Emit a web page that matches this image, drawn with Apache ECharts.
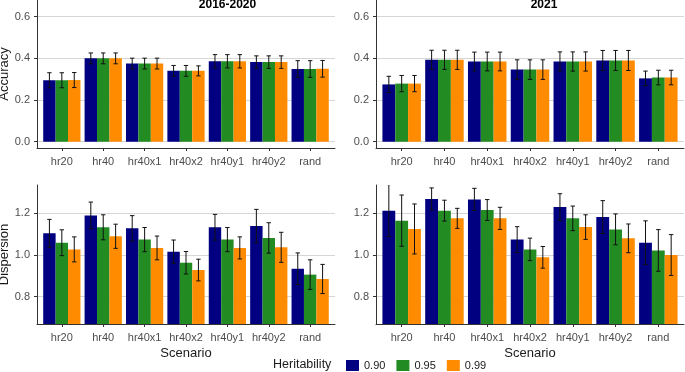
<!DOCTYPE html>
<html><head><meta charset="utf-8">
<script src="https://cdn.jsdelivr.net/npm/echarts@6/dist/echarts.min.js"></script>
<style>html,body{margin:0;padding:0;background:#fff}#c{width:685px;height:372px}</style>
</head><body><div id="c"></div>
<script>
// ---------- data ----------
const categories = ['hr20', 'hr40', 'hr40x1', 'hr40x2', 'hr40y1', 'hr40y2', 'rand'];
const heritability = ['0.90', '0.95', '0.99'];
const panelTitles = ['2016-2020', '2021'];
const accuracyTicks = [0, 0.2, 0.4, 0.6];
const dispersionTicks = [0.8, 1.0, 1.2];

// Accuracy 2016-2020
const acc2016_090 = [0.295, 0.400, 0.375, 0.340, 0.386, 0.382, 0.349];
const acc2016_095 = [0.295, 0.400, 0.375, 0.340, 0.386, 0.382, 0.349];
const acc2016_099 = [0.296, 0.400, 0.375, 0.340, 0.386, 0.382, 0.350];
const accErr2016_090 = [0.036, 0.026, 0.026, 0.026, 0.032, 0.030, 0.040];
const accErr2016_095 = [0.036, 0.026, 0.026, 0.026, 0.032, 0.030, 0.040];
const accErr2016_099 = [0.036, 0.026, 0.026, 0.024, 0.032, 0.030, 0.040];

// Accuracy 2021
const acc2021_090 = [0.275, 0.393, 0.385, 0.346, 0.385, 0.390, 0.304];
const acc2021_095 = [0.279, 0.393, 0.385, 0.346, 0.385, 0.390, 0.308];
const acc2021_099 = [0.279, 0.393, 0.385, 0.346, 0.385, 0.390, 0.308];
const accErr2021_090 = [0.039, 0.046, 0.045, 0.047, 0.046, 0.048, 0.035];
const accErr2021_095 = [0.039, 0.046, 0.045, 0.047, 0.046, 0.048, 0.035];
const accErr2021_099 = [0.039, 0.046, 0.045, 0.047, 0.046, 0.048, 0.035];

// Dispersion 2016-2020
const disp2016_090 = [1.104, 1.190, 1.128, 1.016, 1.133, 1.139, 0.934];
const disp2016_095 = [1.059, 1.133, 1.074, 0.963, 1.074, 1.082, 0.906];
const disp2016_099 = [1.027, 1.090, 1.034, 0.928, 1.034, 1.037, 0.885];
const dispErr2016_090 = [0.067, 0.064, 0.061, 0.056, 0.062, 0.080, 0.076];
const dispErr2016_095 = [0.062, 0.060, 0.058, 0.054, 0.058, 0.073, 0.071];
const dispErr2016_099 = [0.060, 0.058, 0.057, 0.052, 0.053, 0.072, 0.070];

// Dispersion 2021
const disp2021_090 = [1.213, 1.269, 1.267, 1.074, 1.230, 1.182, 1.059];
const disp2021_095 = [1.165, 1.213, 1.216, 1.027, 1.176, 1.123, 1.022];
const disp2021_099 = [1.125, 1.176, 1.176, 0.989, 1.134, 1.080, 1.000];
const dispErr2021_090 = [0.125, 0.053, 0.053, 0.062, 0.064, 0.079, 0.105];
const dispErr2021_095 = [0.123, 0.050, 0.050, 0.054, 0.059, 0.074, 0.100];
const dispErr2021_099 = [0.120, 0.048, 0.053, 0.052, 0.059, 0.069, 0.098];

// ---------- styling / layout ----------
const colors = ['#000080', '#228B22', '#FF8C00'];
const FONT = '"Liberation Sans", Arial, sans-serif';
const AXIS_COL = '#333333';
const TICK_TXT = '#4D4D4D';
const GRID_COL = '#D6D6D6';

const panels = [
  { x: 37, w: 298, y: 0, h: 148, min: -0.030, max: 0.680, ticks: accuracyTicks, yName: 'Accuracy', xName: '',
    vals: [acc2016_090, acc2016_095, acc2016_099], errs: [accErr2016_090, accErr2016_095, accErr2016_099] },
  { x: 376, w: 308, y: 0, h: 148, min: -0.030, max: 0.680, ticks: accuracyTicks, yName: '', xName: '',
    vals: [acc2021_090, acc2021_095, acc2021_099], errs: [accErr2021_090, accErr2021_095, accErr2021_099] },
  { x: 37, w: 298, y: 185, h: 139, min: 0.669, max: 1.336, ticks: dispersionTicks, yName: 'Dispersion', xName: 'Scenario',
    vals: [disp2016_090, disp2016_095, disp2016_099], errs: [dispErr2016_090, dispErr2016_095, dispErr2016_099] },
  { x: 376, w: 308, y: 185, h: 139, min: 0.669, max: 1.336, ticks: dispersionTicks, yName: '', xName: 'Scenario',
    vals: [disp2021_090, disp2021_095, disp2021_099], errs: [dispErr2021_090, dispErr2021_095, dispErr2021_099] }
];

const grid = [], xAxis = [], yAxis = [], series = [];
const N = panels.length;

panels.forEach((p, pi) => {
  const band = p.w / (categories.length + 0.2);
  grid[pi] = { left: p.x + 0.1 * band, top: p.y, width: band * categories.length, height: p.h, outerBoundsMode: 'none' };
  grid[N + pi] = { left: p.x, top: p.y, width: p.w, height: p.h, outerBoundsMode: 'none' };

  xAxis[pi] = {
    type: 'category', gridIndex: pi, data: categories, boundaryGap: true,
    axisLine: { show: false, onZero: false },
    axisTick: { show: true, alignWithLabel: true, length: 3, lineStyle: { color: AXIS_COL, width: 1 } },
    axisLabel: { color: TICK_TXT, fontSize: 11, fontFamily: FONT, margin: 8, interval: 0 },
    splitLine: { show: false }
  };
  yAxis[pi] = { type: 'value', gridIndex: pi, min: p.min, max: p.max, show: false };

  xAxis[N + pi] = {
    type: 'value', gridIndex: N + pi, min: 0, max: 1,
    axisLine: { show: true, onZero: false, lineStyle: { color: AXIS_COL, width: 1 } },
    axisTick: { show: false }, axisLabel: { show: false }, splitLine: { show: false },
    name: p.xName, nameLocation: 'middle', nameGap: 23,
    nameTextStyle: { fontSize: 13, color: '#1a1a1a', fontFamily: FONT }
  };
  yAxis[N + pi] = {
    type: 'value', gridIndex: N + pi, min: p.min, max: p.max,
    axisLine: { show: true, onZero: false, lineStyle: { color: AXIS_COL, width: 1 } },
    axisTick: { show: true, length: 3, customValues: p.ticks, lineStyle: { color: AXIS_COL, width: 1 } },
    axisLabel: { show: true, customValues: p.ticks, color: TICK_TXT, fontSize: 11, fontFamily: FONT, margin: 7,
      formatter: v => Number(v).toFixed(1) },
    splitLine: { show: true, lineStyle: { color: GRID_COL, width: 1 } },
    name: p.yName, nameLocation: 'middle', nameGap: 24, nameRotate: 90,
    nameTextStyle: { fontSize: 13, color: '#1a1a1a', fontFamily: FONT }
  };

  heritability.forEach((h, k) => {
    series.push({
      type: 'bar', name: h, xAxisIndex: pi, yAxisIndex: pi,
      data: p.vals[k], barWidth: '30%', barGap: '0%',
      itemStyle: { color: colors[k] }, clip: true, z: 2, silent: true
    });
  });
  heritability.forEach((h, k) => {
    const data = categories.map((c, i) => [i, p.vals[k][i], p.errs[k][i]]);
    series.push({
      type: 'custom', xAxisIndex: pi, yAxisIndex: pi, clip: true, z: 5, silent: true,
      encode: { x: 0, y: 1 }, data: data,
      renderItem: (params, api) => {
        const i = api.value(0), m = api.value(1), e = api.value(2);
        const bw = api.size([1, 0])[0];
        const cx = api.coord([i, m])[0] + (k - 1) * 0.3 * bw;
        const yt = api.coord([i, m + e])[1], yb = api.coord([i, m - e])[1];
        const hw = 2.2;
        const st = { stroke: '#111', lineWidth: 1 };
        return { type: 'group', children: [
          { type: 'line', shape: { x1: cx, y1: yt, x2: cx, y2: yb }, style: st },
          { type: 'line', shape: { x1: cx - hw, y1: yt, x2: cx + hw, y2: yt }, style: st },
          { type: 'line', shape: { x1: cx - hw, y1: yb, x2: cx + hw, y2: yb }, style: st }
        ] };
      }
    });
  });
});

const chart = echarts.init(document.getElementById('c'), null, { renderer: 'canvas' });
chart.setOption({
  animation: false,
  backgroundColor: '#ffffff',
  textStyle: { fontFamily: FONT },
  grid: grid, xAxis: xAxis, yAxis: yAxis, series: series,
  legend: {
    data: heritability, left: 341, top: 355, itemWidth: 13, itemHeight: 11, itemGap: 11,
    icon: 'rect', selectedMode: false,
    textStyle: { fontSize: 11, color: '#1a1a1a', fontFamily: FONT }
  },
  graphic: [
    { type: 'text', x: 227.5, y: 5, style: { text: panelTitles[0], align: 'center', verticalAlign: 'middle',
      font: 'bold 12px ' + FONT, fill: '#000' } },
    { type: 'text', x: 544, y: 5, style: { text: panelTitles[1], align: 'center', verticalAlign: 'middle',
      font: 'bold 12px ' + FONT, fill: '#000' } },
    { type: 'text', x: 273, y: 365, style: { text: 'Heritability', align: 'left', verticalAlign: 'middle',
      font: '12.5px ' + FONT, fill: '#1a1a1a' } }
  ]
});
</script>
</body></html>
